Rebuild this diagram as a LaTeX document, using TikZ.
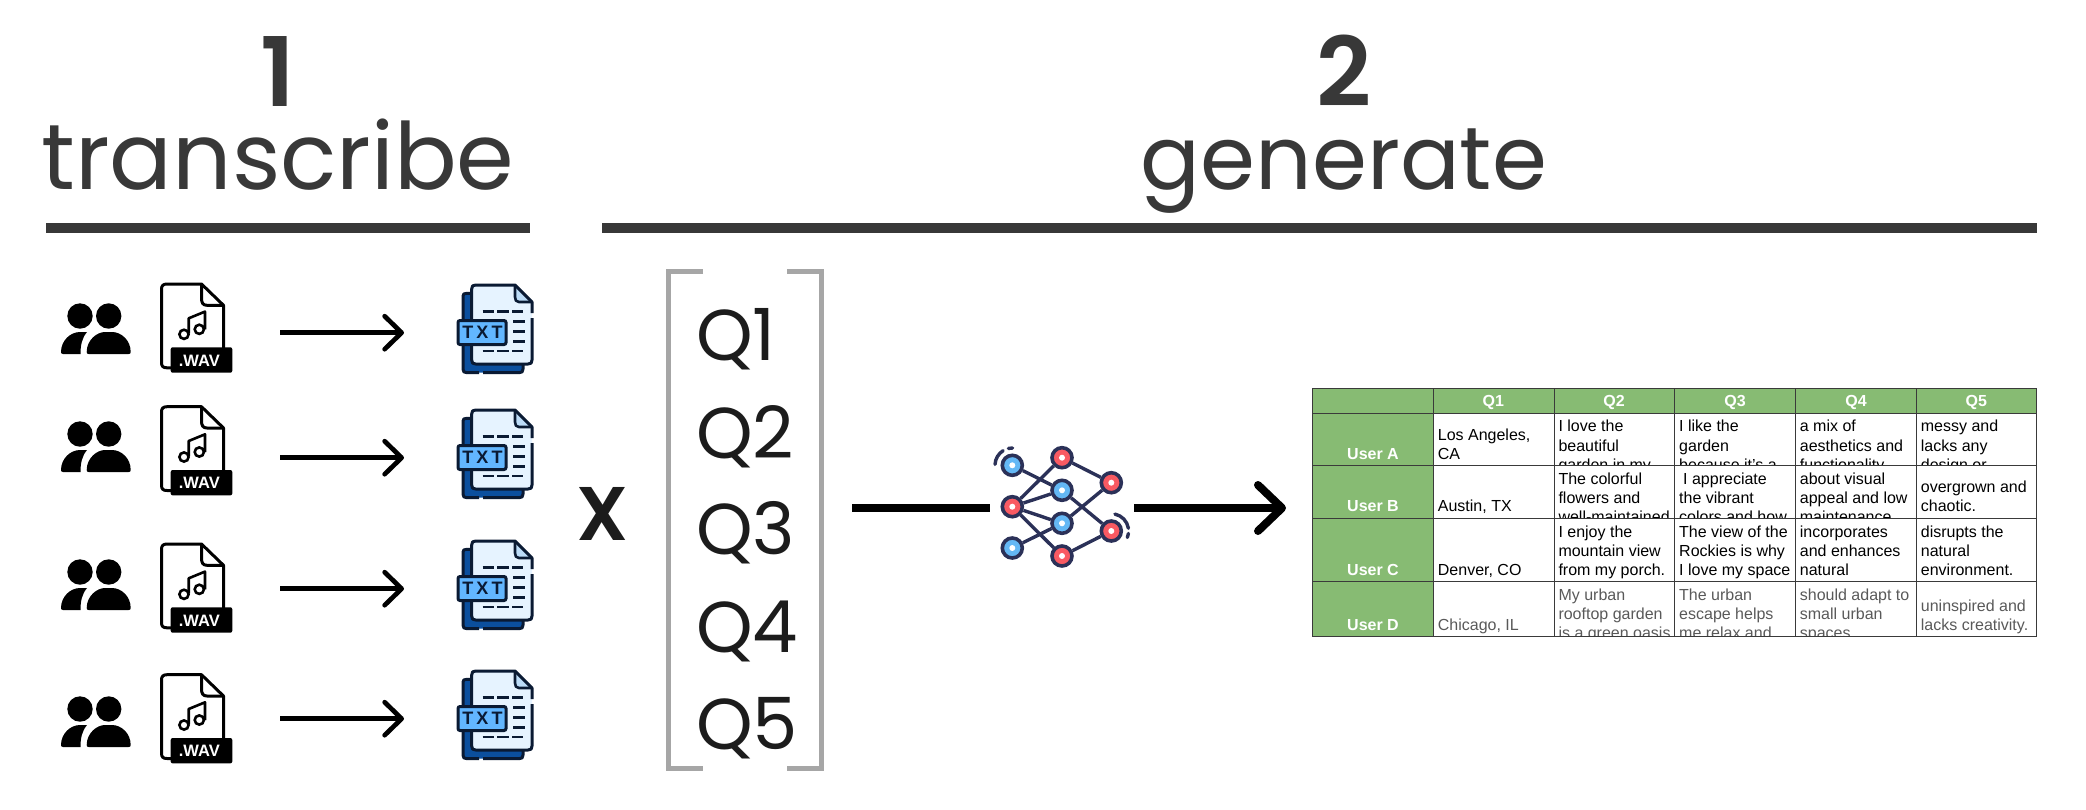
\documentclass[tikz,border=0pt]{standalone}
\usepackage{fontspec}
\usetikzlibrary{arrows.meta}
\setmainfont{Liberation Sans}
\newfontfamily\headlight{Poppins}
\newfontfamily\headbold{Poppins SemiBold}
\newfontfamily\spacedbold[LetterSpace=18]{Liberation Sans Bold}
\definecolor{ink}{HTML}{383838}
\definecolor{qink}{HTML}{1C1C1C}
\definecolor{brk}{HTML}{A6A6A6}
\definecolor{sheetgreen}{HTML}{87BB73}
\definecolor{sheetline}{HTML}{3A3A3A}
\definecolor{greytxt}{HTML}{595959}
\definecolor{navy}{HTML}{2B3158}
\definecolor{nnblue}{HTML}{64B8F5}
\definecolor{nnred}{HTML}{F95A62}
\definecolor{txtback}{HTML}{0B4F9E}
\definecolor{txtfront}{HTML}{E6F3FF}
\definecolor{txtfold}{HTML}{BCDCF8}
\definecolor{txttag}{HTML}{62B6FF}
\definecolor{txtink}{HTML}{0A1A33}
\tikzset{
  headtext/.style={inner sep=0pt,text=ink,anchor=base},
  qtext/.style={inner sep=0pt,text=qink,anchor=base west,font=\headlight\fontsize{72}{72}\selectfont},
  toprule/.style={fill=ink,draw=none},
  flowarrow/.style={line width=4.7pt,-{Straight Barb[length=17pt,width=33pt,line width=4.7pt,round]}},
  bigline/.style={line width=8pt},
  bigarrow/.style={line width=8pt,-{Straight Barb[length=24pt,width=46pt,line width=8pt,round]}},
  bracket/.style={line width=5pt,draw=brk,miter limit=10},
  celltxt/.style={inner sep=0pt,anchor=base west,font=\fontsize{16}{19}\selectfont},
  gridline/.style={line width=1pt,draw=sheetline},
  nnode/.style={circle,draw=navy,line width=3.6pt,minimum size=20pt,inner sep=0pt},
  nnedge/.style={draw=navy,line width=3.4pt},
  nnarc/.style={draw=navy,line width=3.4pt,line cap=round},
}
\newcount\cn
\newcommand{\tl}[4][black]{\global\advance\cn by 1 \node[celltxt,text=#1] (cell\the\cn) at (#2,#3) {#4};}
\newcommand{\people}[1]{%
  \begin{scope}[shift={(0,#1)}]
    \fill (80,0) circle[radius=12.7pt];
    \fill (108.7,0) circle[radius=12.7pt];
    \fill (61,36) .. controls (61,25) and (70,16) .. (80,16) -- (87,16)
      .. controls (82,22) and (80.5,29) .. (80.5,38) -- (63,38)
      .. controls (61.5,38) and (61,37) .. cycle;
    \fill (86.7,36) .. controls (86.7,24) and (97,16) .. (105,16) -- (112,16)
      .. controls (121,16) and (130.7,24) .. (130.7,36)
      .. controls (130.7,37.5) and (130,38) .. (128.7,38) -- (88.7,38)
      .. controls (87.2,38) and (86.7,37.5) .. cycle;
  \end{scope}}
\newcommand{\wavfile}[2]{%
  \begin{scope}[shift={(0,#2)}]
    \draw[line width=3pt,line join=round] (172,84.5) -- (167,84.5) .. controls (163,84.5) and (161.5,83) .. (161.5,79)
      -- (161.5,6) .. controls (161.5,2.5) and (163,0.7) .. (167,0.7) -- (201.5,0.7) -- (223.5,22) -- (223.5,66);
    \draw[line width=3pt,line join=round] (201.5,0.7) -- (201.5,15) .. controls (201.5,19.5) and (203,22) .. (207,22) -- (223.5,22);
    \draw[line width=2.6pt] (184,51) circle[radius=4.6pt];
    \draw[line width=2.6pt] (199.3,46) circle[radius=4.6pt];
    \draw[line width=2.6pt,line join=round] (188.7,50) -- (188.7,35) -- (205,28.3) -- (205,46);
    \fill[rounded corners=2pt] (170.7,64) rectangle (232.3,89.4);
    \node[inner sep=0pt,anchor=base,text=white,font=\bfseries\fontsize{16.5}{16.5}\selectfont] (#1) at (199.3,82.7) {.WAV};
  \end{scope}}
\newcommand{\txtfile}[2]{%
  \begin{scope}[shift={(0,#2)}]
    \fill[txtback,rounded corners=3pt] (463,8.3) rectangle (523,87.7);
    \draw[txtink,line width=3pt,line join=round] (479,87.7) -- (467,87.7) .. controls (464,87.7) and (463,86.7) .. (463,84) -- (463,11) .. controls (463,9) and (464,8.3) .. (467,8.3) -- (472,8.3);
    \draw[txtink,line width=3pt,line join=round] (483,87.7) -- (519,87.7) .. controls (522,87.7) and (523,86.7) .. (523,84) -- (523,79);
    \fill[txtfront,rounded corners=3pt] (471.7,0) -- (515,0) -- (532,17) -- (532,79) -- (471.7,79) -- cycle;
    \fill[txtfold] (515,0) -- (532,17) -- (519,17) -- (515,13) -- cycle;
    \draw[txtink,line width=3pt,line join=round] (532,28) -- (532,17) -- (515,0) -- (475.7,0) .. controls (472.7,0) and (471.7,1) .. (471.7,4) -- (471.7,75) .. controls (471.7,78) and (472.7,79) .. (475.7,79) -- (528,79) .. controls (531,79) and (532,78) .. (532,75) -- (532,33);
    \draw[txtink,line width=2.6pt,line join=round] (515,0) -- (515,12) .. controls (515,15) and (516,17) .. (519,17) -- (532,17);
    \foreach \yy in {26.7,66} {
      \draw[txtink,line width=2.8pt] (482.7,\yy) -- (494,\yy) (497,\yy) -- (509,\yy) (512,\yy) -- (523.3,\yy);
    }
    \foreach \yy in {36.7,46.7,56.7} {
      \draw[txtink,line width=2.8pt] (513,\yy) -- (524.5,\yy);
    }
    \draw[fill=txttag,draw=txtink,line width=3pt,rounded corners=2pt] (458,35.5) rectangle (506,59.5);
    \node[inner sep=0pt,anchor=base,text=txtink,font=\spacedbold\fontsize{18}{18}\selectfont] (#1) at (482.5,53.8) {TXT};
  \end{scope}}
\begin{document}
\begin{tikzpicture}[x=1pt,y=-1pt]
\useasboundingbox (0,0) rectangle (2086,809);
% headings
\node[headtext,font=\headbold\fontsize{96}{96}\selectfont] (num1) at (278,106) {1};
\node[headtext,font=\headlight\fontsize{92.8}{92.8}\selectfont] (word1) at (278,189) {transcribe};
\fill[toprule] (46,223) rectangle (530,233);
\node[headtext,font=\headbold\fontsize{96}{96}\selectfont] (num2) at (1344,106) {2};
\node[headtext,font=\headlight\fontsize{88.5}{88.5}\selectfont] (word2) at (1344,189) {generate};
\fill[toprule] (602,223) rectangle (2037,233);
% rows
\people{316}\wavfile{wav1}{283.3}\txtfile{txt1}{285}
\people{434}\wavfile{wav2}{406}\txtfile{txt2}{410}
\people{572}\wavfile{wav3}{543.3}\txtfile{txt3}{541}
\people{709}\wavfile{wav4}{674}\txtfile{txt4}{671}
\coordinate (s1) at (280,332.7); \coordinate (e1) at (404,332.7);
\coordinate (s2) at (280,457.7); \coordinate (e2) at (404,457.7);
\coordinate (s3) at (280,588.7); \coordinate (e3) at (404,588.7);
\coordinate (s4) at (280,718.7); \coordinate (e4) at (404,718.7);
\draw[flowarrow] (s1) -- (e1);
\draw[flowarrow] (s2) -- (e2);
\draw[flowarrow] (s3) -- (e3);
\draw[flowarrow] (s4) -- (e4);
% X and bracket
\node[inner sep=0pt,anchor=base,text=qink,font=\headbold\fontsize{76}{76}\selectfont] (times) at (603,540) {X};
\draw[bracket] (703,271.5) -- (668.5,271.5) -- (668.5,768.4) -- (703,768.4);
\draw[bracket] (787,271.5) -- (821.5,271.5) -- (821.5,768.4) -- (787,768.4);
\node[qtext] (q1) at (696,360) {Q1};
\node[qtext] (q2) at (696,458) {Q2};
\node[qtext] (q3) at (696,554) {Q3};
\node[qtext] (q4) at (696,652.7) {Q4};
\node[qtext] (q5) at (696,749) {Q5};
% network
\node[nnode,fill=nnblue] (n1) at (1012.3,465.3) {};
\node[nnode,fill=nnred]  (n2) at (1012.3,506.7) {};
\node[nnode,fill=nnblue] (n3) at (1012.3,548) {};
\node[nnode,fill=nnred]  (m1) at (1062,457.7) {};
\node[nnode,fill=nnblue] (m2) at (1062,490.3) {};
\node[nnode,fill=nnblue] (m3) at (1062,523.3) {};
\node[nnode,fill=nnred]  (m4) at (1062,556) {};
\node[nnode,fill=nnred]  (r1) at (1111.3,482.7) {};
\node[nnode,fill=nnred]  (r2) at (1111.3,531) {};
\foreach \a/\b in {n1/m2,n2/m1,n2/m2,n2/m3,n2/m4,n3/m3,m1/r1,m2/r2,m3/r1,m4/r2} {
  \draw[nnedge] (\a) -- (\b);
}
\foreach \a in {n1,n2,n3,m1,m2,m3,m4,r1,r2} {
  \fill[white] (\a.center) circle[radius=3pt];
}
\draw[nnarc] ([shift={(177:17.3pt)}]n1.center) arc[start angle=177,end angle=122,radius=17.3pt];
\draw[nnarc] ([shift={(103:17.3pt)}]n1.center) arc[start angle=103,end angle=89,radius=17.3pt];
\draw[nnarc] ([shift={(78:17.3pt)}]r2.center) arc[start angle=78,end angle=9,radius=17.3pt];
\draw[nnarc] ([shift={(-8:17.3pt)}]r2.center) arc[start angle=-8,end angle=-22,radius=17.3pt];
\coordinate (l0) at (852,508); \coordinate (l1) at (990,508);
\coordinate (a0) at (1134,508); \coordinate (a1) at (1286,508);
\draw[bigline] (l0) -- (l1);
\draw[bigarrow] (a0) -- (a1);
% table
\fill[sheetgreen] (1312.3,388.3) rectangle (2036.7,413.3);
\fill[sheetgreen] (1312.3,413.3) rectangle (1433.3,636.7);
\foreach \xx/\t in {1493.3/Q1,1614/Q2,1735/Q3,1856/Q4,1976.3/Q5} {
  \node[inner sep=0pt,anchor=base,text=white,font=\bfseries\fontsize{16}{19}\selectfont] (h\t) at (\xx,406) {\t};
}
\foreach \yy/\t/\n in {459.3/User A/ua,511.7/User B/ub,575.3/User C/uc,630.3/User D/ud} {
  \node[inner sep=0pt,anchor=base,text=white,font=\bfseries\fontsize{16}{19}\selectfont] (\n) at (1373,\yy) {\t};
}
% row A
\begin{scope}
\clip (1433.3,413.3) rectangle (2036.7,465.7);
\tl{1437.7}{440.7}{Los Angeles,}\tl{1437.7}{459.3}{CA}
\tl{1558.3}{431.7}{I love the}\tl{1558.3}{451}{beautiful}\tl{1558.3}{470}{garden in my}
\tl{1679}{431.7}{I like the}\tl{1679}{451}{garden}\tl{1679}{470}{because it's a}
\tl{1799.7}{431.7}{a mix of}\tl{1799.7}{451}{aesthetics and}\tl{1799.7}{470}{functionality}
\tl{1920.7}{431.7}{messy and}\tl{1920.7}{451}{lacks any}\tl{1920.7}{470}{design or}
\end{scope}
% row B
\begin{scope}
\clip (1433.3,465.7) rectangle (2036.7,518.3);
\tl{1437.7}{511.7}{Austin, TX}
\tl{1558.3}{484.3}{The colorful}\tl{1558.3}{503.7}{flowers and}\tl{1558.3}{522.7}{well-maintained}
\tl{1683}{484.3}{I appreciate}\tl{1679}{503.7}{the vibrant}\tl{1679}{522.7}{colors and how}
\tl{1799.7}{484.3}{about visual}\tl{1799.7}{503.7}{appeal and low}\tl{1799.7}{522.7}{maintenance}
\tl{1920.7}{492.7}{overgrown and}\tl{1920.7}{511.7}{chaotic.}
\end{scope}
% row C
\begin{scope}
\clip (1433.3,518.3) rectangle (2036.7,581.7);
\tl{1437.7}{575.3}{Denver, CO}
\tl{1558.3}{537}{I enjoy the}\tl{1558.3}{556.3}{mountain view}\tl{1558.3}{575.3}{from my porch.}
\tl{1679}{537}{The view of the}\tl{1679}{556.3}{Rockies is why}\tl{1679}{575.3}{I love my space}
\tl{1799.7}{537}{incorporates}\tl{1799.7}{556.3}{and enhances}\tl{1799.7}{575.3}{natural}
\tl{1920.7}{537}{disrupts the}\tl{1920.7}{556.3}{natural}\tl{1920.7}{575.3}{environment.}
\end{scope}
% row D
\begin{scope}
\clip (1433.3,581.7) rectangle (2036.7,636.7);
\tl[greytxt]{1437.7}{630.3}{Chicago, IL}
\tl[greytxt]{1558.3}{600.3}{My urban}\tl[greytxt]{1558.3}{619.7}{rooftop garden}\tl[greytxt]{1558.3}{638.7}{is a green oasis}
\tl[greytxt]{1679}{600.3}{The urban}\tl[greytxt]{1679}{619.7}{escape helps}\tl[greytxt]{1679}{638.7}{me relax and}
\tl[greytxt]{1799.7}{600.3}{should adapt to}\tl[greytxt]{1799.7}{619.7}{small urban}\tl[greytxt]{1799.7}{638.7}{spaces}
\tl[greytxt]{1920.7}{611.3}{uninspired and}\tl[greytxt]{1920.7}{630.3}{lacks creativity.}
\end{scope}
\foreach \yy in {388.3,413.3,465.7,518.3,581.7,636.7} {
  \draw[gridline] (1312.3,\yy) -- (2036.7,\yy);
}
\foreach \xx in {1312.3,1433.3,1554,1674.7,1795.7,1916,2036.7} {
  \draw[gridline] (\xx,388.3) -- (\xx,636.7);
}
\end{tikzpicture}
\end{document}
